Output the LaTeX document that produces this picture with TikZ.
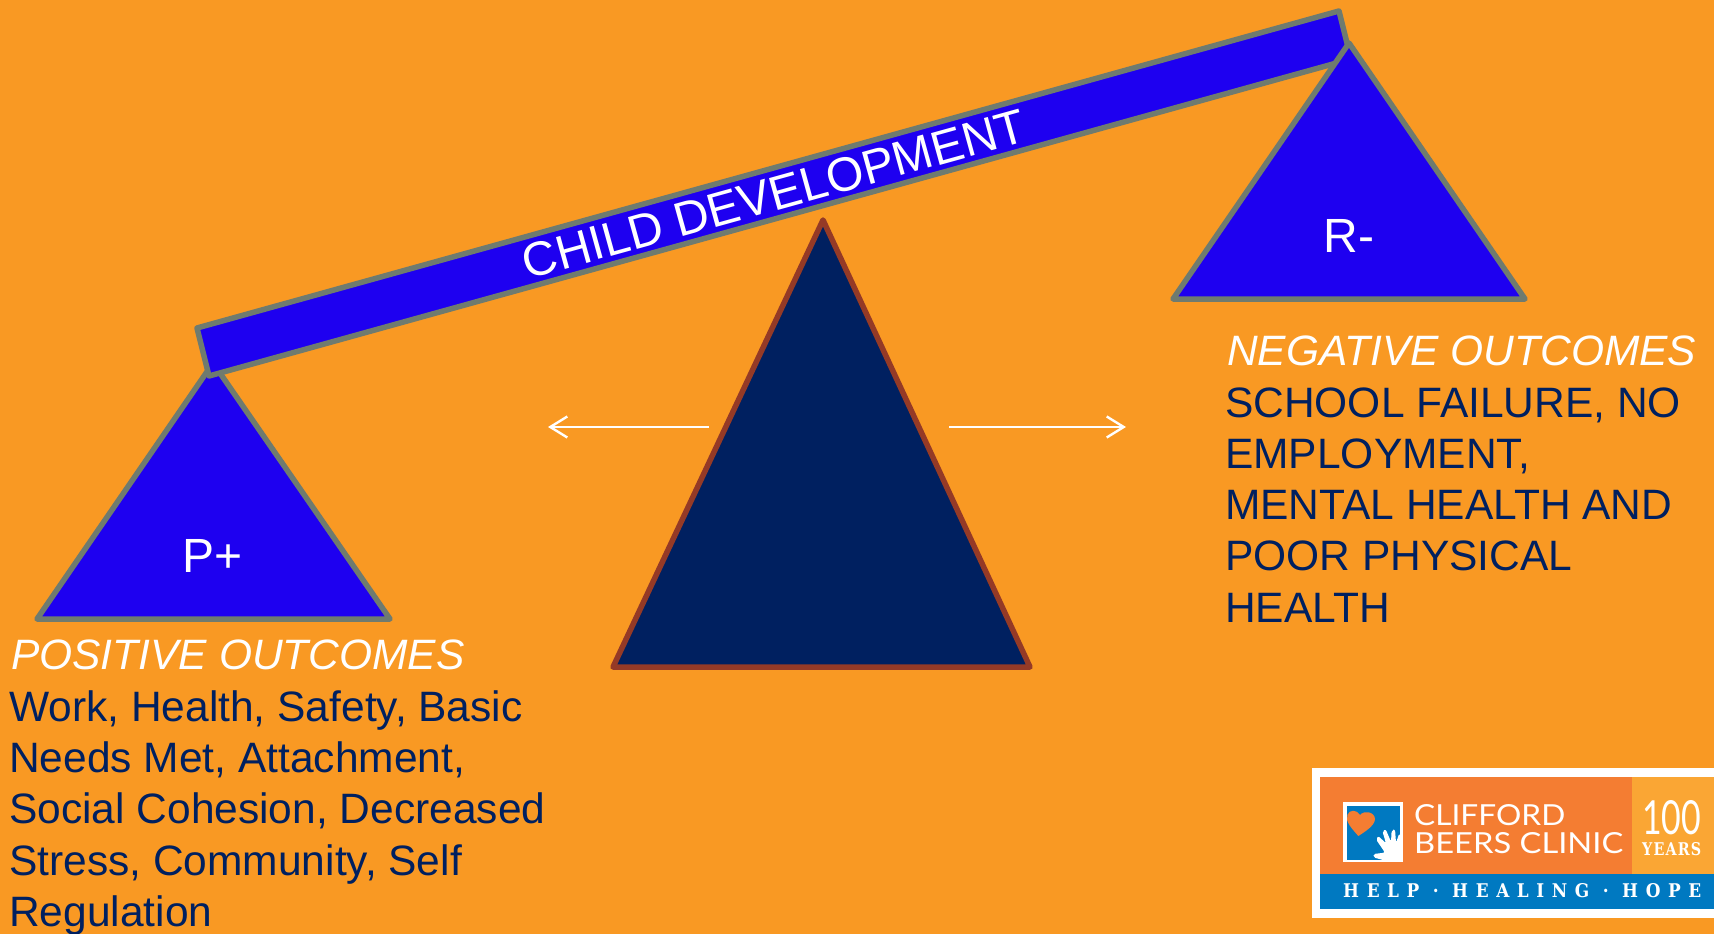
\documentclass[tikz,border=0pt]{standalone}
\usepackage{fontspec}
\usepackage{graphicx}
\setmainfont{Liberation Sans}
\newfontfamily\logofont{Lato}
\newfontfamily\slabfont[LetterSpace=45]{DejaVu Serif}
\newfontfamily\yearsfont[LetterSpace=8]{DejaVu Serif}
\usetikzlibrary{arrows.meta}
\definecolor{bgorange}{HTML}{F99923}
\definecolor{panblue}{HTML}{1E00F0}
\definecolor{panedge}{HTML}{6F7B6F}
\definecolor{navy}{HTML}{002060}
\definecolor{brownedge}{HTML}{953A26}
\definecolor{logoorange}{HTML}{F47D32}
\definecolor{logolight}{HTML}{FAA634}
\definecolor{logoblue}{HTML}{0079C1}
\tikzset{
  x=1pt,y=-1pt,
  panshape/.style={fill=panblue,draw=panedge,line width=5.5pt,line join=round},
  fulcrum/.style={fill=navy,draw=brownedge,line width=5.5pt,line join=round},
  whitearrow/.style={draw=white,line width=2.4pt,-{Straight Barb[length=17pt,width=21pt,line width=2.4pt]}},
  panlabel/.style={text=white,inner sep=0pt,font=\fontsize{48}{48}\selectfont,anchor=base},
  headline/.style={text=white,inner sep=0pt,anchor=base west,font=\fontsize{42.5}{51.2}\selectfont\itshape},
  bodytext/.style={text=navy,inner sep=0pt,anchor=north west,align=left,font=\fontsize{42.5}{51.2}\selectfont},
  logotext/.style={text=white,inner sep=0pt,anchor=north west},
}
\begin{document}
\begin{tikzpicture}
\useasboundingbox (0,0) rectangle (1714,934);
\fill[bgorange] (0,0) rectangle (1714,934);

% left pan
\coordinate (pa) at (213,363);
\coordinate (pb) at (37,619);
\coordinate (pc) at (390,619);
\draw[panshape] (pa) -- (pb) -- (pc) -- cycle;
\node[panlabel] (plabel) at (213,572) {P+};

% beam
\coordinate (btl) at (197,328);
\coordinate (btr) at (1339,11);
\coordinate (bbr) at (1351,59);
\coordinate (bbl) at (209,376);
\draw[panshape] (btl) -- (btr) -- (bbr) -- (bbl) -- cycle;

% right pan
\coordinate (ra) at (1349,43);
\coordinate (rb) at (1173,299);
\coordinate (rc) at (1525,299);
\draw[panshape] (ra) -- (rb) -- (rc) -- cycle;
\node[panlabel] (rlabel) at (1349,252) {R-};

% beam title
\node[text=white,inner sep=0pt,rotate=15.5,font=\fontsize{48}{48}\selectfont] (beamtitle) at (774,194) {CHILD DEVELOPMENT};

% fulcrum
\coordinate (fa) at (823,220);
\coordinate (fb) at (613,667);
\coordinate (fc) at (1030,667);
\draw[fulcrum] (fa) -- (fb) -- (fc) -- cycle;

% arrows
\coordinate (al1) at (709,427);
\coordinate (al2) at (548,427);
\coordinate (ar1) at (949,427);
\coordinate (ar2) at (1126,427);
\draw[whitearrow] (al1) -- (al2);
\draw[whitearrow] (ar1) -- (ar2);

% texts
\node[headline] (poshead) at (11,669.5) {POSITIVE OUTCOMES};
\node[bodytext] (posbody) at (9,690.5) {Work, Health, Safety, Basic\\Needs Met, Attachment,\\Social Cohesion, Decreased\\Stress, Community, Self\\Regulation};
\node[headline] (neghead) at (1227,365) {NEGATIVE OUTCOMES};
\node[bodytext] (negbody) at (1225,387.5) {SCHOOL FAILURE, NO\\EMPLOYMENT,\\MENTAL HEALTH AND\\POOR PHYSICAL\\HEALTH};

% logo
\fill[white] (1312,768) rectangle (1714,918);
\fill[logoorange] (1320,777) rectangle (1632,874);
\fill[logolight] (1632,777) rectangle (1714,874);
\fill[logoblue] (1320,874) rectangle (1714,909);
\begin{scope}[shift={(1290,750)},scale=1/3]
  \fill[white] (160,155) rectangle (338,335);
  \fill[logoblue] (170,168) rectangle (330,330);
  \fill[logoorange] (205,258) .. controls (185,235) and (165,215) .. (172,195) .. controls (178,178) and (200,178) .. (210,195) .. controls (222,180) and (255,185) .. (255,208) .. controls (253,228) and (225,245) .. (205,258) -- cycle;
  \fill[white,rounded corners=2pt] (338,335) -- (290,333) -- (250,322) -- (250,312) -- (285,308) -- (258,268) -- (265,258) -- (288,280) -- (277,243) -- (287,238) -- (303,275) -- (305,240) -- (315,238) -- (318,278) -- (328,250) -- (338,252) -- cycle;
\end{scope}
\node[logotext] (logoname1) at (1414,804) {\resizebox{151pt}{21pt}{\logofont CLIFFORD}};
\node[logotext] (logoname2) at (1414,832) {\resizebox{209pt}{21pt}{\logofont BEERS CLINIC}};
\node[logotext] (logo100) at (1642,800) {\resizebox{59pt}{34pt}{\logofont 100}};
\node[logotext] (logoyears) at (1642,842) {\resizebox{59pt}{13pt}{\yearsfont\bfseries YEARS}};
\node[logotext] (logomotto) at (1343,883) {\resizebox{358pt}{14pt}{\slabfont\bfseries HELP · HEALING · HOPE}};
\end{tikzpicture}
\end{document}
